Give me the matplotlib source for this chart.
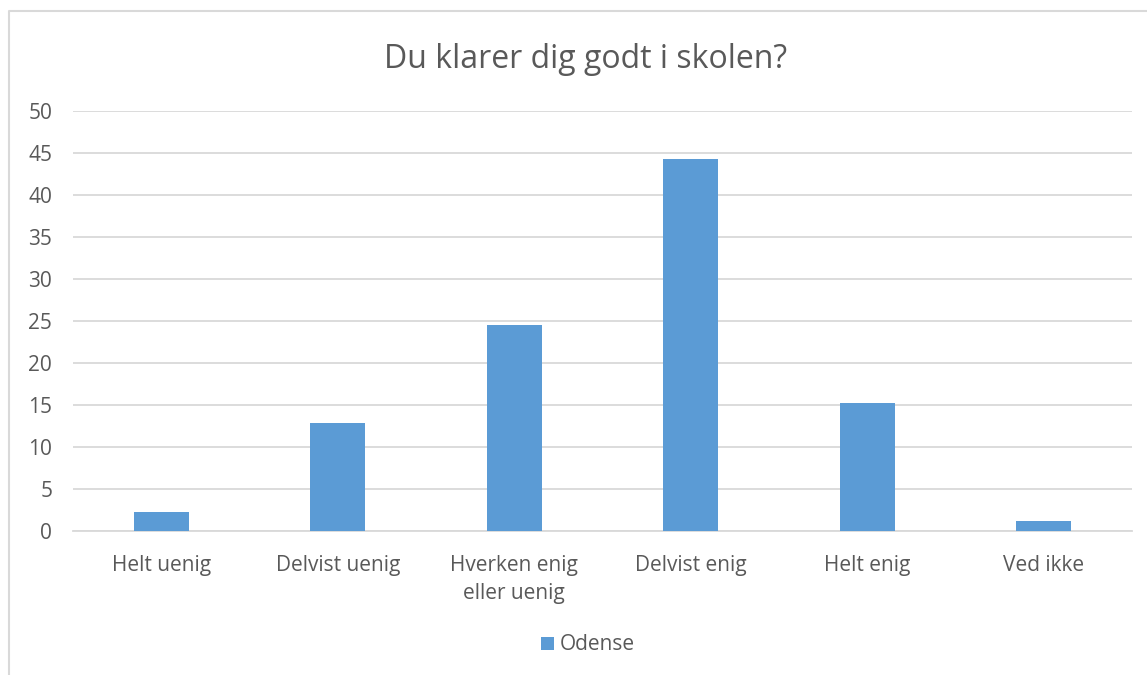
import numpy as np
from matplotlib import pyplot as plt
from matplotlib.lines import Line2D

# data
categories = ["Helt uenig", "Delvist uenig", "Hverken enig\neller uenig",
              "Delvist enig", "Helt enig", "Ved ikke"]
odense = [2.3, 12.8, 24.5, 44.3, 15.2, 1.2]

plt.rcParams['font.family'] = ['Open Sans', 'DejaVu Sans']
txt = '#595959'
grid = '#D9D9D9'
blue = '#5B9BD5'

fig = plt.figure(figsize=(11.47, 6.75), dpi=100)
ax = fig.add_axes([73/1147, 1-531/675, (1132-73)/1147, (531-111)/675])

x = np.arange(len(categories))
ax.bar(x, odense, width=0.31, color=blue, label="Odense", zorder=3)

ax.set_xlim(-0.5, len(categories)-0.5)
ax.set_ylim(0, 50)
ax.set_yticks(range(0, 51, 5))
ax.set_xticks(x)
ax.set_xticklabels(categories, linespacing=1.45)
ax.tick_params(axis='both', length=0, labelsize=15, colors=txt)
ax.tick_params(axis='y', pad=15)
ax.tick_params(axis='x', pad=17)
ax.yaxis.grid(True, color=grid, linewidth=1.3, zorder=0)
for s in ['top', 'right', 'left']:
    ax.spines[s].set_visible(False)
ax.spines['bottom'].set_color(grid)
ax.spines['bottom'].set_linewidth(1.3)

fig.text(586/1147, 1-60/675, "Du klarer dig godt i skolen?", ha='center', va='center',
         fontsize=23, color=txt)

leg = fig.legend(loc='center', bbox_to_anchor=(588/1147, 1-645/675), frameon=False,
                 fontsize=15, handlelength=0.6, handleheight=0.6, handletextpad=0.3)
for t in leg.get_texts():
    t.set_color(txt)

# chart border (partly cut off in the reference)
fig.add_artist(Line2D([9/1147, 9/1147, 1], [0, 1-11/675, 1-11/675],
                      transform=fig.transFigure, color=grid, linewidth=1.5))

fig.savefig("out.png", dpi=100)
